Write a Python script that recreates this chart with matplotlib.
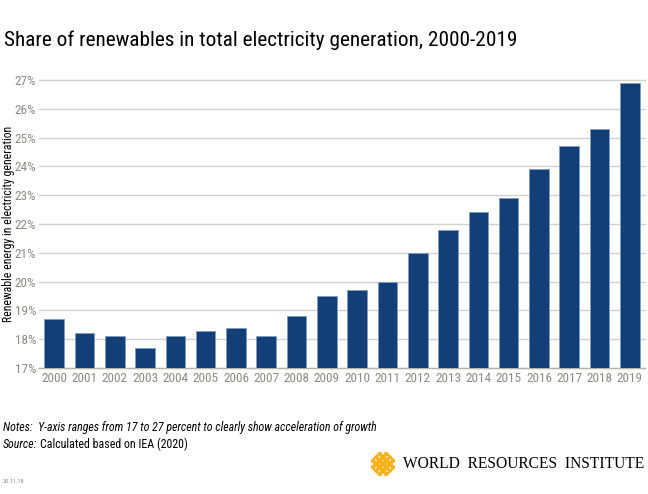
import matplotlib
matplotlib.use("Agg")
import matplotlib.pyplot as plt
import numpy as np

# data
years = [str(y) for y in range(2000, 2020)]
share = [18.7, 18.2, 18.1, 17.7, 18.1, 18.3, 18.4, 18.1, 18.8, 19.5,
         19.7, 20.0, 21.0, 21.8, 22.4, 22.9, 23.9, 24.7, 25.3, 26.9]
yticks = list(range(17, 28))
ytick_labels = [f"{v}%" for v in yticks]

plt.rcParams['font.family'] = ['Roboto Condensed', 'DejaVu Sans']

bar_color = '#123f75'
tick_color = '#8c8b82'

fig = plt.figure(figsize=(6.48, 4.94), dpi=100)
ax = fig.add_axes([39 / 648, 126 / 494, 606 / 648, 288 / 494])

x = np.arange(len(years))
ax.bar(x, share, width=0.65, bottom=0, color=bar_color,
       edgecolor='#7f9cc0', linewidth=0.6, zorder=3)

ax.set_xlim(-0.5, len(years) - 0.5)
ax.set_ylim(17, 27)
ax.set_yticks(yticks)
ax.set_yticklabels(ytick_labels)
ax.set_xticks(x)
ax.set_xticklabels(years)
ax.grid(axis='y', color='#d2d2cd', linewidth=1.0, zorder=0)
for gl in ax.get_ygridlines():
    gl.set_clip_on(False)
for s in ['top', 'right', 'left']:
    ax.spines[s].set_visible(False)
ax.spines['bottom'].set_color('#b5b5ae')
ax.spines['bottom'].set_linewidth(1.0)
ax.tick_params(axis='both', length=0, labelsize=9.5, colors=tick_color)
ax.tick_params(axis='y', pad=2)
ax.tick_params(axis='x', pad=3)
ax.set_ylabel('Renewable energy in electricity generation', fontsize=8.5,
              color='black')
ax.yaxis.set_label_coords(-0.040, 0.5)

fig.text(4 / 648, 1 - 40 / 494, 'Share of renewables in total electricity generation, 2000-2019',
         fontsize=15.3, va='center', ha='left', color='black')

fig.text(3 / 648, 1 - 428 / 494,
         'Notes:  Y-axis ranges from 17 to 27 percent to clearly show acceleration of growth',
         fontsize=8.6, style='italic', va='center', ha='left')
src = fig.text(3 / 648, 1 - 444 / 494, 'Source:', fontsize=8.6, style='italic',
               va='center', ha='left')
fig.canvas.draw()
bb = src.get_window_extent()
fig.text((bb.x1 + 3) / 648, 1 - 444 / 494, 'Calculated based on IEA (2020)',
         fontsize=8.6, va='center', ha='left')

fig.text(3 / 648, 1 - 481 / 494, '20.11.18', fontsize=4.5, color='#8c8b82',
         va='center', ha='left')

# logo: yellow lattice icon + name
lax = fig.add_axes([371 / 648, 1 - 476 / 494, 24 / 648, 24 / 494])
lx, ly = [], []
for i in range(-3, 4):
    for j in range(-3, 4):
        if abs(i) + abs(j) <= 3 and (i + j) % 2 == 1:
            lx.append(i)
            ly.append(j)
lax.scatter(lx, ly, marker='D', s=20, facecolor='none', edgecolor='#f5b21b', linewidths=1.6)
lax.set_xlim(-3.6, 3.6)
lax.set_ylim(-3.6, 3.6)
lax.axis('off')
fig.text(403 / 648, 1 - 464 / 494, 'WORLD  RESOURCES  INSTITUTE',
         fontsize=11.2, family=['Liberation Serif', 'DejaVu Serif'], va='center', ha='left')

fig.savefig('out.png', dpi=100)
